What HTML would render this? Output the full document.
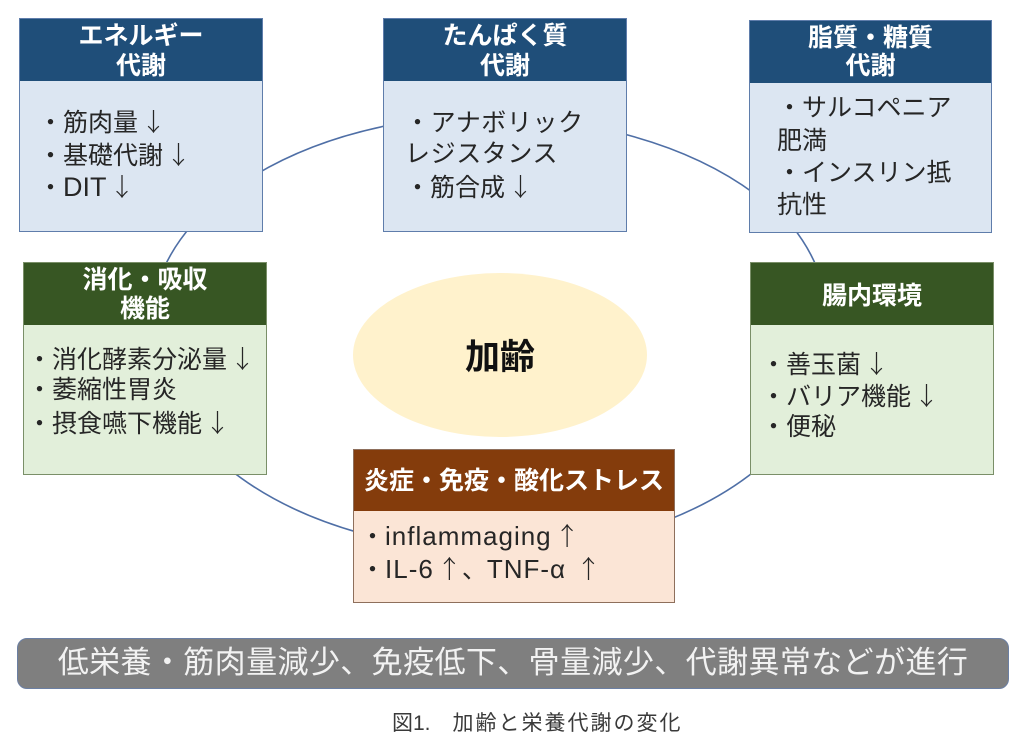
<!DOCTYPE html>
<html>
<head>
<meta charset="utf-8">
<style>
  html, body { margin: 0; padding: 0; }
  body {
    width: 1024px; height: 756px; position: relative; overflow: hidden;
    background: #ffffff;
    font-family: "Liberation Sans", "Noto Sans CJK JP", sans-serif;
  }
  .box { position: absolute; box-sizing: border-box; border: 1.5px solid #5f7dab; }
  .hd { position: absolute; left: 0; top: 0; right: 0; }
  .blue { background: #dce6f2; border-color: #5f7dab; }
  .blue .hd { background: #1f4e79; }
  .green { background: #e2efda; border-color: #7a8f68; }
  .green .hd { background: #375623; }
  .brown { background: #fbe5d6; border-color: #8e6f5c; }
  .brown .hd { background: #843c0c; }
  .h {
    position: absolute; height: 30px; line-height: 30px; text-align: center;
    color: #ffffff; font-weight: bold; font-size: 25px; white-space: nowrap;
  }
  .b {
    position: absolute; height: 32px; line-height: 32px;
    color: #262626; font-size: 25px; white-space: nowrap;
  }
  .lat { font-size: 27px; }
  .ar { font-family: "Noto Sans CJK JP", sans-serif; font-weight: 300; padding-left: 3px; }
  svg { position: absolute; left: 0; top: 0; }
</style>
</head>
<body>

<svg width="1024" height="756" viewBox="0 0 1024 756">
  <g fill="none" stroke="#4f6fa6" stroke-width="1.6">
    <path d="M255,175 A345,210 0 0 1 390,125"/>
    <path d="M620,133 A345,210 0 0 1 755,194"/>
    <path d="M792,226 A345,210 0 0 1 817,268"/>
    <path d="M756,470 A345,210 0 0 1 668,520"/>
    <path d="M360,533 A345,210 0 0 1 228,468"/>
    <path d="M164,268 A345,210 0 0 1 192,225"/>
  </g>
  <ellipse cx="500" cy="355" rx="147" ry="82" fill="#fff2cc"/>
  <text x="500" y="369" text-anchor="middle" font-family="Liberation Sans, Noto Sans CJK JP, sans-serif" font-weight="bold" font-size="35" fill="#111">加齢</text>
</svg>

<!-- Box 1 -->
<div class="box blue" style="left:19px;top:18px;width:244px;height:214px;">
  <div class="hd" style="height:62px;"></div>
</div>
<div class="h" style="left:19px;width:244px;top:21px;">エネルギー</div>
<div class="h" style="left:19px;width:244px;top:51px;">代謝</div>
<div class="b" style="left:38px;top:105px;">・筋肉量<span class="ar">↓</span></div>
<div class="b" style="left:38px;top:138px;">・基礎代謝<span class="ar">↓</span></div>
<div class="b" style="left:38px;top:170px;">・<span class="lat">DIT</span><span class="ar">↓</span></div>

<!-- Box 2 -->
<div class="box blue" style="left:383px;top:18px;width:244px;height:214px;">
  <div class="hd" style="height:62px;"></div>
</div>
<div class="h" style="left:383px;width:244px;top:21px;">たんぱく質</div>
<div class="h" style="left:383px;width:244px;top:51px;">代謝</div>
<div class="b" style="left:405px;top:107px;letter-spacing:0.6px;">・アナボリック</div>
<div class="b" style="left:405px;top:138px;letter-spacing:0.6px;">レジスタンス</div>
<div class="b" style="left:405px;top:170px;">・筋合成<span class="ar">↓</span></div>

<!-- Box 3 -->
<div class="box blue" style="left:749px;top:20px;width:243px;height:213px;">
  <div class="hd" style="height:62px;"></div>
</div>
<div class="h" style="left:749px;width:243px;top:23px;">脂質・糖質</div>
<div class="h" style="left:749px;width:243px;top:51px;">代謝</div>
<div class="b" style="left:777px;top:92px;">・サルコペニア</div>
<div class="b" style="left:777px;top:125px;">肥満</div>
<div class="b" style="left:777px;top:157px;">・インスリン抵</div>
<div class="b" style="left:777px;top:189px;">抗性</div>

<!-- Box 4 -->
<div class="box green" style="left:23px;top:262px;width:244px;height:213px;">
  <div class="hd" style="height:62px;"></div>
</div>
<div class="h" style="left:23px;width:244px;top:265px;">消化・吸収</div>
<div class="h" style="left:23px;width:244px;top:294px;">機能</div>
<div class="b" style="left:27px;top:342px;">・消化酵素分泌量<span class="ar">↓</span></div>
<div class="b" style="left:27px;top:374px;">・萎縮性胃炎</div>
<div class="b" style="left:27px;top:406px;">・摂食嚥下機能<span class="ar">↓</span></div>

<!-- Box 5 -->
<div class="box green" style="left:750px;top:262px;width:244px;height:213px;">
  <div class="hd" style="height:62px;"></div>
</div>
<div class="h" style="left:750px;width:244px;top:281px;">腸内環境</div>
<div class="b" style="left:761px;top:347px;">・善玉菌<span class="ar">↓</span></div>
<div class="b" style="left:761px;top:379px;">・バリア機能<span class="ar">↓</span></div>
<div class="b" style="left:761px;top:411px;">・便秘</div>

<!-- Box 6 -->
<div class="box brown" style="left:353px;top:449px;width:322px;height:154px;">
  <div class="hd" style="height:61px;"></div>
</div>
<div class="h" style="left:353px;width:322px;top:466px;">炎症・免疫・酸化ストレス</div>
<div class="b" style="left:360px;top:519px;">・<span style="font-size:26px;letter-spacing:1px;">inflammaging</span><span class="ar">↑</span></div>
<div class="b" style="left:360px;top:552px;">・<span style="font-size:26px;letter-spacing:1px;">IL-6</span><span class="ar">↑</span>、<span style="font-size:26px;letter-spacing:1px;">TNF-α</span> <span class="ar">↑</span></div>

<!-- Bottom bar -->
<div style="position:absolute;left:17px;top:638px;width:992px;height:51px;box-sizing:border-box;background:#7f7f7f;border:1.5px solid #6b7fa3;border-radius:10px;"></div>
<div style="position:absolute;left:17px;top:643px;width:992px;height:40px;line-height:40px;text-align:center;color:#f2f2f2;font-size:31px;letter-spacing:0.4px;white-space:nowrap;">低栄養・筋肉量減少、免疫低下、骨量減少、代謝異常などが進行</div>

<!-- Caption -->
<div style="position:absolute;left:392px;top:710px;height:28px;line-height:28px;color:#3a3a3a;font-size:21px;white-space:nowrap;">図1.<span style="display:inline-block;width:22px;"></span><span style="letter-spacing:2px;">加齢と栄養代謝の変化</span></div>

</body>
</html>
